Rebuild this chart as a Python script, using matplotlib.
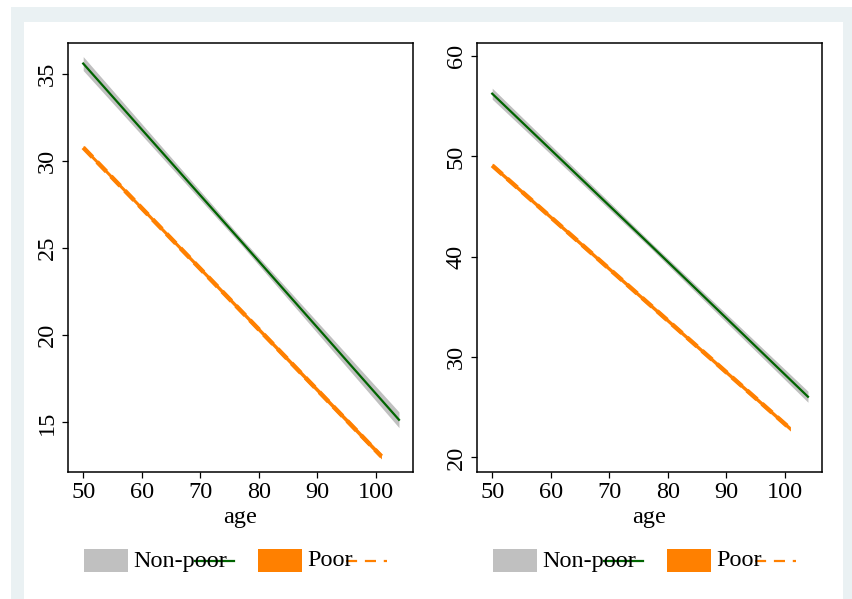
import matplotlib
matplotlib.use("Agg")
import matplotlib.pyplot as plt
from matplotlib.patches import Rectangle
from matplotlib.lines import Line2D

plt.rcParams['font.family'] = ['Liberation Serif', 'DejaVu Serif']

# ---- data ----
age_nonpoor = [50, 77, 104]
age_poor = [50, 101]

left_nonpoor_fit = [35.6, 25.4, 15.15]
left_nonpoor_hw = [0.40, 0.20, 0.45]
left_poor_fit = [30.78, 13.05]
left_poor_hw = [0.12, 0.15]

right_nonpoor_fit = [56.25, 41.2, 26.05]
right_nonpoor_hw = [0.55, 0.30, 0.55]
right_poor_fit = [49.1, 22.85]
right_poor_hw = [0.22, 0.22]

xticks = [50, 60, 70, 80, 90, 100]
left_yticks = [15, 20, 25, 30, 35]
right_yticks = [20, 30, 40, 50, 60]
legend_labels = ["Non-poor", "Poor"]

GRAY = "#C0C0C0"
GREEN = "#006400"
ORANGE = "#FF8000"
BG = "#EAF1F3"
FS = 17.5

W, H = 853, 599
fig = plt.figure(figsize=(W / 100, H / 100), dpi=100)
fig.patch.set_facecolor("white")


def fx(px):
    return px / W


def fy(py):
    return 1 - py / H


# outer light frame and inner white panel
fig.patches.append(Rectangle((fx(11), 0), fx(853 - 11), fy(7), transform=fig.transFigure,
                             facecolor=BG, edgecolor="none", zorder=-2))
fig.patches.append(Rectangle((fx(24), 0), fx(843 - 24), fy(22), transform=fig.transFigure,
                             facecolor="white", edgecolor="none", zorder=-1))

panels = [
    dict(left=68, fit_np=left_nonpoor_fit, hw_np=left_nonpoor_hw, fit_p=left_poor_fit,
         hw_p=left_poor_hw, ylim=(12.18, 36.78), yticks=left_yticks),
    dict(left=477, fit_np=right_nonpoor_fit, hw_np=right_nonpoor_hw, fit_p=right_poor_fit,
         hw_p=right_poor_hw, ylim=(18.6, 61.3), yticks=right_yticks),
]

for p in panels:
    L = p["left"]
    ax = fig.add_axes([fx(L), fy(471.5), fx(345), fy(43) - fy(471.5)])
    ax.set_facecolor("white")
    lo = [f - h for f, h in zip(p["fit_np"], p["hw_np"])]
    hi = [f + h for f, h in zip(p["fit_np"], p["hw_np"])]
    ax.fill_between(age_nonpoor, lo, hi, color=GRAY, linewidth=0, zorder=1)
    ax.plot(age_nonpoor, p["fit_np"], color=GREEN, lw=1.6, zorder=3)
    lo = [f - h for f, h in zip(p["fit_p"], p["hw_p"])]
    hi = [f + h for f, h in zip(p["fit_p"], p["hw_p"])]
    ax.fill_between(age_poor, lo, hi, color=ORANGE, linewidth=0, zorder=1)
    ax.plot(age_poor, p["fit_p"], color=ORANGE, lw=3.2, dashes=(3, 1.5), zorder=2)

    ax.set_xlim(47.4, 106.4)
    ax.set_ylim(*p["ylim"])
    ax.set_xticks(xticks)
    ax.set_yticks(p["yticks"])
    ax.tick_params(direction="out", length=4.5, width=0.9, labelsize=FS, pad=3)
    for lab in ax.get_yticklabels():
        lab.set_rotation(90)
        lab.set_va("center")
    for s in ax.spines.values():
        s.set_linewidth(1.1)
    ax.set_xlabel("age", fontsize=FS, labelpad=3)

    # legend (Stata style, below the panel)
    yc = 561
    fig.patches.append(Rectangle((fx(L + 16), fy(572)), fx(44), fy(549) - fy(572),
                                 transform=fig.transFigure, facecolor=GRAY, edgecolor="none"))
    fig.text(fx(L + 65), fy(yc), legend_labels[0], fontsize=FS, va="center", ha="left")
    fig.add_artist(Line2D([fx(L + 127), fx(L + 166)], [fy(yc), fy(yc)], color=GREEN, lw=1.6,
                          transform=fig.transFigure))
    fig.patches.append(Rectangle((fx(L + 190), fy(572)), fx(44), fy(549) - fy(572),
                                 transform=fig.transFigure, facecolor=ORANGE, edgecolor="none"))
    fig.text(fx(L + 239), fy(yc), legend_labels[1], fontsize=FS, va="center", ha="left")
    fig.add_artist(Line2D([fx(L + 278), fx(L + 319)], [fy(yc), fy(yc)], color=ORANGE, lw=1.6,
                          dashes=(5, 3.5), transform=fig.transFigure))

fig.savefig("out.png", dpi=100, facecolor=fig.get_facecolor())
